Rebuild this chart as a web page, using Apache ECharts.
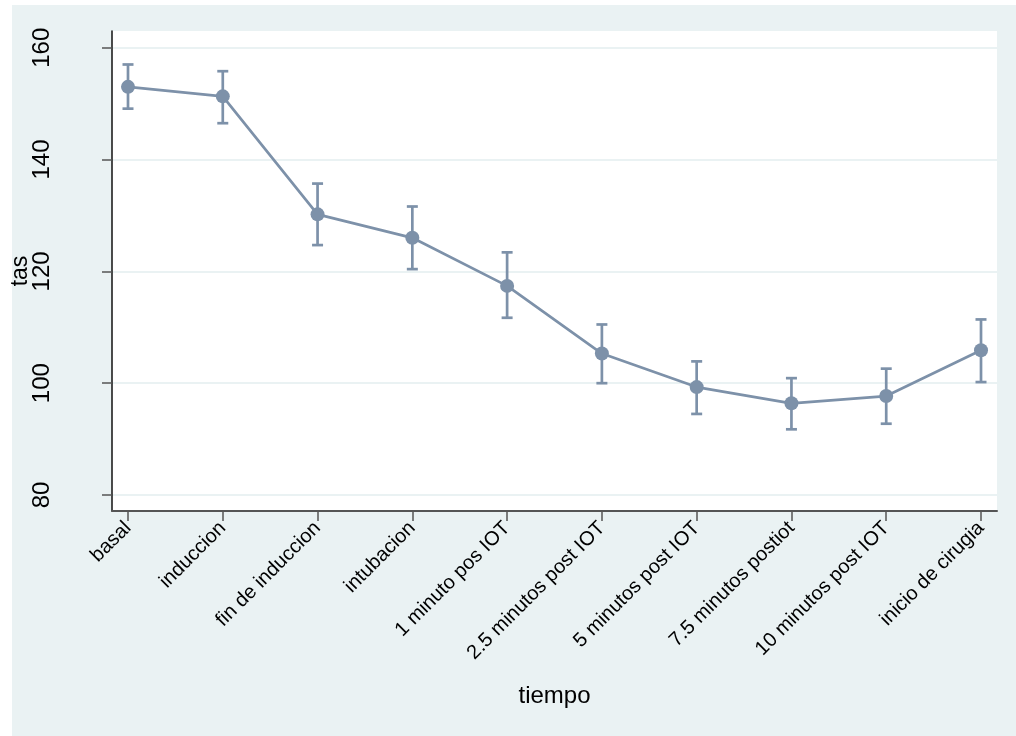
<!DOCTYPE html>
<html>
<head>
<meta charset="utf-8">
<script src="https://cdn.jsdelivr.net/npm/echarts@6/dist/echarts.min.js"></script>
<style>
html,body{margin:0;padding:0;background:#fff;}
#c{width:1016px;height:736px;}
</style>
</head>
<body>
<div id="c"></div>
<script>
const categories = ['basal','induccion','fin de induccion','intubacion','1 minuto pos IOT','2.5 minutos post IOT','5 minutos post IOT','7.5 minutos postiot','10 minutos post IOT','inicio de cirugia'];
const means = [153.0, 151.3, 130.2, 126.0, 117.4, 105.3, 99.3, 96.4, 97.7, 105.9];
const upper = [157.0, 155.8, 135.7, 131.6, 123.4, 110.5, 103.9, 100.9, 102.6, 111.4];
const lower = [149.1, 146.5, 124.7, 120.4, 111.7, 100.0, 94.5, 91.75, 92.75, 100.2];
const yTicks = [80, 100, 120, 140, 160];

const COLOR = '#7D91A9';
const FONT = 'Liberation Sans, Arial, sans-serif';
const idx = categories.map((c, i) => i);

const chart = echarts.init(document.getElementById('c'), null, {renderer: 'canvas'});
chart.setOption({
  backgroundColor: '#ffffff',
  animation: false,
  graphic: [{
    type: 'rect', z: -100, silent: true,
    shape: {x: 12, y: 5, width: 1004, height: 731},
    style: {fill: '#EAF2F3'}
  }],
  grid: {
    left: 112, right: 19, top: 31, bottom: 225,
    outerBoundsMode: 'none', containLabel: false,
    show: true, backgroundColor: '#ffffff', borderWidth: 0
  },
  xAxis: {
    type: 'value',
    min: -0.1688, max: 9.1688,
    name: 'tiempo', nameLocation: 'middle', nameGap: 173, nameMoveOverlap: false,
    nameTextStyle: {fontSize: 24, color: '#000', fontFamily: FONT},
    axisLine: {show: true, onZero: false, lineStyle: {color: '#555', width: 2}},
    axisTick: {show: true, length: 10, customValues: idx, lineStyle: {color: '#555', width: 1.5}},
    axisLabel: {
      customValues: idx, rotate: 45, margin: 14,
      fontSize: 20, color: '#000', fontFamily: FONT,
      formatter: v => categories[Math.round(v)]
    },
    splitLine: {show: false}
  },
  yAxis: {
    type: 'value',
    min: 77.14, max: 162.99,
    name: 'tas', nameLocation: 'middle', nameGap: 80, nameRotate: 90, nameMoveOverlap: false,
    nameTextStyle: {fontSize: 23, color: '#000', fontFamily: FONT},
    axisLine: {show: true, onZero: false, lineStyle: {color: '#111', width: 1.5}},
    axisTick: {show: true, length: 10, customValues: yTicks, lineStyle: {color: '#555', width: 1.5}},
    axisLabel: {
      customValues: yTicks, rotate: 90, margin: 58,
      fontSize: 24, color: '#000', fontFamily: FONT
    },
    splitLine: {show: true, lineStyle: {color: '#EAF2F3', width: 2}}
  },
  series: [
    {
      type: 'custom',
      z: 3,
      data: idx.map(i => [i, lower[i], upper[i]]),
      renderItem: function (params, api) {
        const x = api.value(0);
        const lo = api.coord([x, api.value(1)]);
        const hi = api.coord([x, api.value(2)]);
        const hw = 5.5;
        const st = {stroke: COLOR, lineWidth: 2.7};
        return {
          type: 'group',
          children: [
            {type: 'line', shape: {x1: lo[0], y1: lo[1], x2: hi[0], y2: hi[1]}, style: st},
            {type: 'line', shape: {x1: hi[0] - hw, y1: hi[1], x2: hi[0] + hw, y2: hi[1]}, style: st},
            {type: 'line', shape: {x1: lo[0] - hw, y1: lo[1], x2: lo[0] + hw, y2: lo[1]}, style: st}
          ]
        };
      }
    },
    {
      type: 'line',
      z: 4,
      data: idx.map(i => [i, means[i]]),
      symbol: 'circle', symbolSize: 14,
      lineStyle: {color: COLOR, width: 2.7},
      itemStyle: {color: COLOR, borderWidth: 0}
    }
  ]
});
</script>
</body>
</html>
